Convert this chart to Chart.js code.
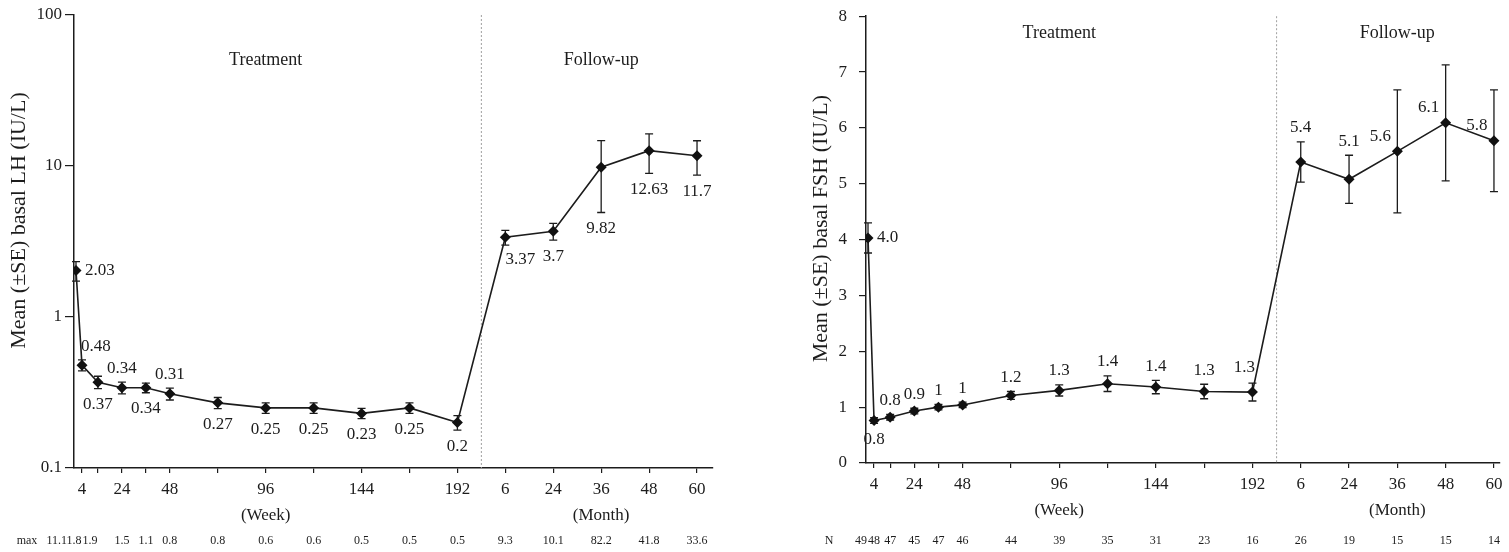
<!DOCTYPE html>
<html>
<head>
<meta charset="utf-8">
<script src="https://cdn.jsdelivr.net/npm/chart.js@4.4.1/dist/chart.umd.min.js"></script>
<style>
  body { margin: 0; background: #fff; width: 1509px; height: 552px; overflow: hidden; position: relative; }
  canvas { position: absolute; }
  #lh { left: 0; top: 0; }
  #fsh { left: 800px; top: -6px; }
</style>
</head>
<body>
<canvas id="lh" width="740" height="552"></canvas>
<canvas id="fsh" width="709" height="558"></canvas>
<script>
// baseline, weeks 4..192, then follow-up months 6..60 (put on the week axis, one step = 24)
const weeks = [1, 4, 12, 24, 36, 48, 72, 96, 120, 144, 168, 192, 216, 240, 264, 288, 312];
const tickWeeks = [4, 12, 24, 36, 48, 72, 96, 120, 144, 168, 192, 216, 240, 264, 288, 312];
const tickText = ['4', '', '24', '', '48', '', '96', '', '144', '', '192', '6', '24', '36', '48', '60'];

// LH
const lhMean = [2.03, 0.48, 0.37, 0.34, 0.34, 0.31, 0.27, 0.25, 0.25, 0.23, 0.25, 0.2, 3.37, 3.7, 9.82, 12.63, 11.7];
const lhSE = [0.3, 0.04, 0.035, 0.03, 0.025, 0.028, 0.023, 0.02, 0.02, 0.018, 0.02, 0.022, 0.38, 0.47, 4.9, 3.7, 3.0];
const lhMax = ['11.1', '1.8', '1.9', '1.5', '1.1', '0.8', '0.8', '0.6', '0.6', '0.5', '0.5', '0.5', '9.3', '10.1', '82.2', '41.8', '33.6'];
const lhTicks = [0.1, 1, 10, 100];

// FSH
const fshMean = [4.03, 0.76, 0.82, 0.93, 1.0, 1.04, 1.21, 1.3, 1.42, 1.36, 1.28, 1.27, 5.39, 5.08, 5.58, 6.09, 5.77];
const fshSE = [0.27, 0.05, 0.05, 0.05, 0.05, 0.05, 0.07, 0.1, 0.14, 0.12, 0.13, 0.16, 0.36, 0.43, 1.1, 1.04, 0.91];
const fshText = ['4.0', '0.8', '0.8', '0.9', '1', '1', '1.2', '1.3', '1.4', '1.4', '1.3', '1.3', '5.4', '5.1', '5.6', '6.1', '5.8'];
const fshN = ['49', '48', '47', '45', '47', '46', '44', '39', '35', '31', '23', '16', '26', '19', '15', '15', '14'];

// where each value label sits next to its point
const lhPlace = ['r', 'ar', 'b', 'a', 'b', 'a', 'b', 'b', 'b', 'b', 'b', 'b', 'br', 'b', 'b', 'b', 'b'];
const fshPlace = ['r', 'b', 'a', 'a', 'a', 'a', 'a', 'a', 'a', 'a', 'a', 'al', 'a', 'a', 'ul', 'ul', 'ul'];

const FONT = "'Liberation Serif', 'Times New Roman', serif";
const INK = '#1c1c1c';

const overlay = {
    id: 'overlay',
    beforeDatasetsDraw(chart, args, o) {
        const ctx = chart.ctx, a = chart.chartArea, x = chart.scales.x, y = chart.scales.y;
        const pts = chart.getDatasetMeta(0).data;
        ctx.save();
        // dotted divider treatment / follow-up
        let xd = x.getPixelForValue(o.divider);
        ctx.strokeStyle = '#a0a0a0';
        ctx.lineWidth = 1;
        ctx.setLineDash([2, 2]);
        ctx.beginPath();
        ctx.moveTo(xd, a.top);
        ctx.lineTo(xd, a.bottom);
        ctx.stroke();
        ctx.setLineDash([]);
        // error bars
        ctx.strokeStyle = INK;
        ctx.lineWidth = 1.3;
        for (let i = 0; i < pts.length; i++) {
            let px = pts[i].x;
            let top = y.getPixelForValue(o.mean[i] + o.se[i]);
            let bot = y.getPixelForValue(o.mean[i] - o.se[i]);
            ctx.beginPath();
            ctx.moveTo(px, top); ctx.lineTo(px, bot);
            ctx.moveTo(px - 4, top); ctx.lineTo(px + 4, top);
            ctx.moveTo(px - 4, bot); ctx.lineTo(px + 4, bot);
            ctx.stroke();
        }
        ctx.restore();
    },
    afterDatasetsDraw(chart, args, o) {
        const ctx = chart.ctx, a = chart.chartArea, x = chart.scales.x, y = chart.scales.y;
        const pts = chart.getDatasetMeta(0).data;
        ctx.save();
        ctx.fillStyle = INK;
        ctx.textBaseline = 'middle';

        // value labels
        ctx.font = '17px ' + FONT;
        for (let i = 0; i < pts.length; i++) {
            let px = pts[i].x, py = pts[i].y;
            let top = y.getPixelForValue(o.mean[i] + o.se[i]);
            let bot = y.getPixelForValue(o.mean[i] - o.se[i]);
            let tx = px, ty = py;
            ctx.textAlign = 'center';
            switch (o.place[i]) {
                case 'r': tx = px + 9; ctx.textAlign = 'left'; break;
                case 'a': ty = top - 14; break;
                case 'ar': tx = px + 14; ty = top - 13; break;
                case 'al': tx = px - 8; ty = top - 16; break;
                case 'b': ty = bot + 16; break;
                case 'br': tx = px + 15; ty = bot + 14; break;
                case 'ul': tx = px - 17; ty = py - 15; break;
            }
            ctx.fillText(o.text[i], tx, ty);
        }

        // section headings
        ctx.textAlign = 'center';
        ctx.font = '18px ' + FONT;
        ctx.fillText('Treatment', x.getPixelForValue(96), y.getPixelForValue(o.headY));
        ctx.fillText('Follow-up', x.getPixelForValue(264), y.getPixelForValue(o.headY));

        // unit labels under the axis
        ctx.font = '17px ' + FONT;
        ctx.fillText('(Week)', x.getPixelForValue(96), a.bottom + 48);
        ctx.fillText('(Month)', x.getPixelForValue(264), a.bottom + 48);

        // max / N row (first few crowd together, so they lean left)
        ctx.font = '12px ' + FONT;
        ctx.fillText(o.rowName, o.rowNameX, a.bottom + o.rowDy);
        for (let i = 0; i < pts.length; i++) {
            let rx = pts[i].x + (i < o.nudgeN ? o.nudge : 0);
            ctx.textAlign = i === 0 ? 'right' : 'center';
            ctx.fillText(o.row[i], i === 0 ? rx - 1 : rx, a.bottom + o.rowDy);
        }

        // y title
        ctx.translate(o.titleX, (a.top + a.bottom) / 2 - o.titleUp);
        ctx.rotate(-Math.PI / 2);
        ctx.textAlign = 'center';
        ctx.font = '22px ' + FONT;
        ctx.fillText(o.title, 0, 0);
        ctx.restore();
    }
};

function drawChart(id, o) {
    let yScale = {
        min: o.ymin,
        max: o.ymax,
        afterFit: function(s) { s.width = o.yWidth; },
        grid: { drawOnChartArea: false, color: INK, tickLength: o.yTickLen, lineWidth: 1.2 },
        border: { color: INK, width: 1.5 },
        ticks: { color: INK, font: { family: FONT, size: 17 }, padding: o.yPad }
    };
    if (o.log) {
        yScale.type = 'logarithmic';
        yScale.afterBuildTicks = function(s) { s.ticks = lhTicks.map(v => ({ value: v })); };
        yScale.ticks.callback = v => String(v);
    } else {
        yScale.type = 'linear';
        yScale.ticks.stepSize = 1;
    }

    return new Chart(document.getElementById(id), {
        type: 'line',
        data: {
            datasets: [{
                data: weeks.map((w, i) => ({ x: w, y: o.mean[i] })),
                borderColor: INK,
                borderWidth: 1.6,
                tension: 0,
                pointStyle: 'rectRot',
                pointRadius: 5.5,
                pointBackgroundColor: '#111',
                pointBorderWidth: 0
            }]
        },
        options: {
            responsive: false,
            animation: false,
            devicePixelRatio: 1,
            layout: { padding: { top: 15, right: o.padRight, left: 0, bottom: 0 } },
            scales: {
                x: {
                    type: 'linear',
                    min: 0,
                    max: o.xmax,
                    afterFit: function(s) { s.height = o.xHeight; },
                    afterBuildTicks: function(s) { s.ticks = tickWeeks.map(v => ({ value: v })); },
                    grid: { drawOnChartArea: false, color: INK, tickLength: 5, lineWidth: 1.2 },
                    border: { color: INK, width: 1.5 },
                    ticks: {
                        autoSkip: false,
                        maxRotation: 0,
                        color: INK,
                        padding: 6,
                        font: { family: FONT, size: 17 },
                        callback: (v, i) => tickText[i]
                    }
                },
                y: yScale
            },
            plugins: {
                legend: { display: false },
                tooltip: { enabled: false },
                overlay: o
            }
        },
        plugins: [overlay]
    });
}

drawChart('lh', {
    log: true, ymin: 0.1, ymax: 100, xmax: 320,
    yWidth: 74, yTickLen: 9, yPad: 3, padRight: 27, xHeight: 84,
    mean: lhMean, se: lhSE, text: lhMean.map(String), place: lhPlace,
    divider: 204, headY: 50,
    row: lhMax, rowName: 'max', rowNameX: 27, rowDy: 73, nudgeN: 3, nudge: -8,
    title: 'Mean (\u00b1SE) basal LH (IU/L)', titleX: 19, titleUp: 21
});

drawChart('fsh', {
    log: false, ymin: 0, ymax: 8, xmax: 315,
    yWidth: 66, yTickLen: 7, yPad: 12, padRight: 9, xHeight: 89,
    mean: fshMean, se: fshSE, text: fshText, place: fshPlace,
    divider: 204, headY: 7.7,
    row: fshN, rowName: 'N', rowNameX: 29, rowDy: 78, nudgeN: 1, nudge: 0,
    title: 'Mean (\u00b1SE) basal FSH (IU/L)', titleX: 21, titleUp: 11
});
</script>
</body>
</html>
